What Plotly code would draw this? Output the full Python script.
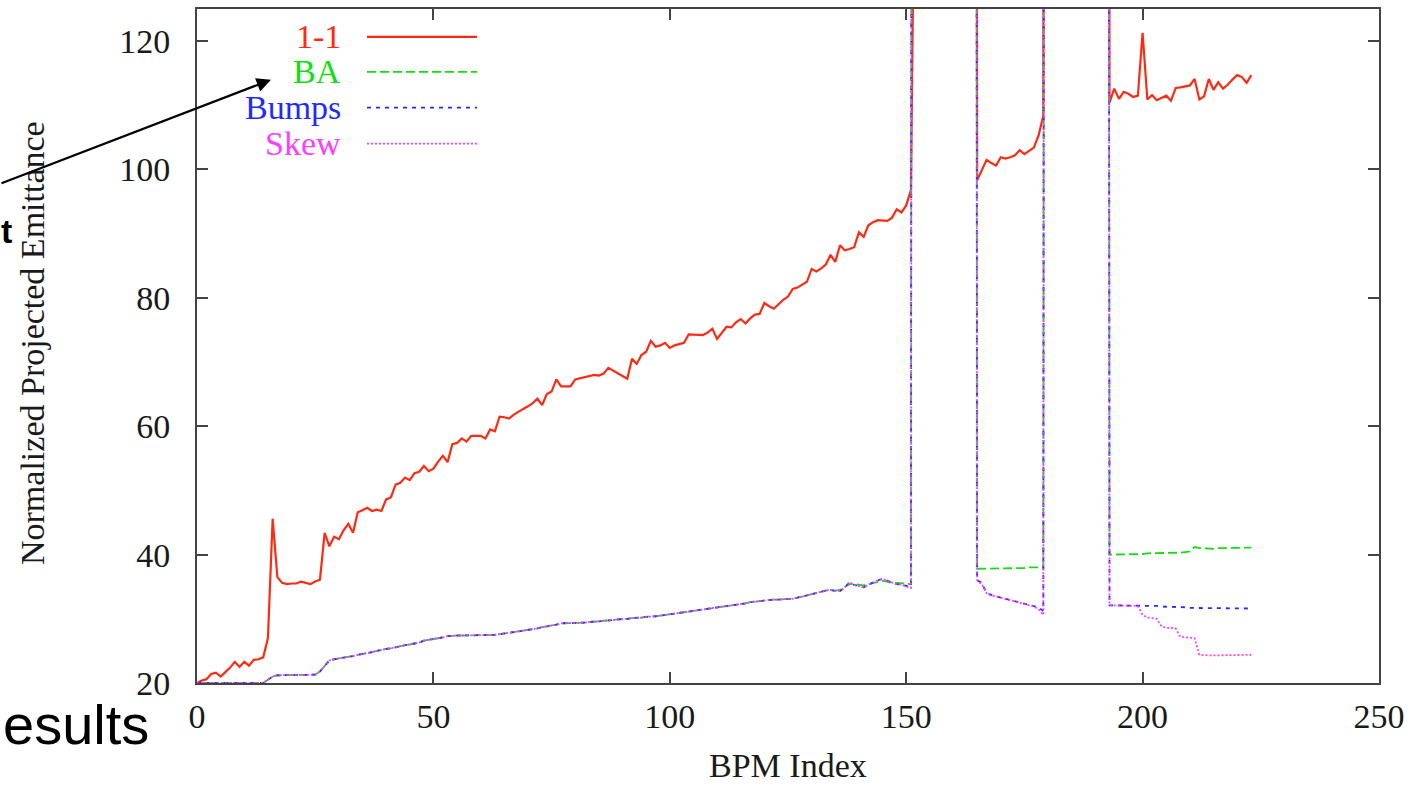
import plotly.graph_objects as go

# Readings beyond the top of the emittance axis (plotted, then clipped by the frame)
OFF_SCALE = 1000.0
O = OFF_SCALE

bpm_index = list(range(224))

emit_1to1 = [
    20.0, 20.4, 20.6, 21.4, 21.6, 21.0, 21.7, 22.4, 23.3, 22.5,   # 0-9
    23.3, 22.7, 23.6, 23.7, 24.0, 27.0, 45.6, 36.5, 35.6, 35.4,   # 10-19
    35.5, 35.5, 35.8, 35.6, 35.4, 35.8, 36.1, 43.4, 41.3, 42.8,   # 20-29
    42.4, 43.8, 44.8, 43.4, 46.6, 46.9, 47.3, 46.8, 47.0, 46.8,   # 30-39
    48.6, 48.9, 50.9, 51.2, 52.0, 51.6, 52.7, 52.9, 53.8, 53.0,   # 40-49
    53.4, 54.5, 55.4, 54.4, 57.2, 57.4, 58.1, 57.6, 58.5, 58.5,   # 50-59
    58.5, 58.1, 59.5, 59.2, 61.5, 61.4, 61.2, 61.8, 62.3, 62.7,   # 60-69
    63.1, 63.6, 64.3, 63.3, 65.0, 65.4, 67.3, 66.2, 66.2, 66.2,   # 70-79
    67.3, 67.5, 67.6, 67.8, 68.0, 67.9, 68.2, 69.1, 68.7, 68.3,   # 80-89
    67.9, 67.4, 70.5, 69.7, 71.1, 71.6, 73.3, 72.4, 72.6, 73.0,   # 90-99
    72.2, 72.6, 72.8, 73.0, 74.3, 74.3, 74.3, 74.2, 74.6, 75.2,   # 100-109
    73.6, 74.6, 75.5, 75.4, 76.2, 76.7, 76.0, 76.8, 77.4, 77.5,   # 110-119
    79.2, 78.7, 78.3, 79.0, 79.7, 80.2, 81.4, 81.6, 82.0, 82.5,   # 120-129
    84.5, 84.1, 84.6, 85.2, 86.7, 85.6, 88.2, 87.4, 87.6, 87.9,   # 130-139
    90.2, 89.5, 91.3, 91.8, 92.1, 92.1, 92.0, 92.5, 93.8, 93.3,   # 140-149
    94.4, 96.8, O, O, O, O, O, O, O, O,                           # 150-159
    O, O, O, O, O, 98.3, 100.0, 101.5, 101.0, 100.6,             # 160-169
    101.9, 101.7, 101.9, 102.2, 103.0, 102.4, 102.9, 103.4, 105.3, 108.4,  # 170-179
    O, O, O, O, O, O, O, O, O, O,                                 # 180-189
    O, O, O, 110.4, 112.6, 111.0, 112.1, 111.8, 111.3, 111.5,     # 190-199
    121.3, 110.9, 111.6, 110.8, 111.2, 111.5, 110.7, 112.7, 112.8, 112.9,  # 200-209
    113.1, 114.1, 110.9, 111.4, 114.1, 112.4, 113.6, 112.6, 113.2, 114.0,  # 210-219
    114.7, 114.4, 113.5, 114.7,                                   # 220-223
]

emit_ba = [
    20.0, 20.0, 20.0, 20.0, 20.0, 20.0, 20.0, 20.0, 20.0, 20.0,   # 0-9
    20.0, 20.0, 20.0, 20.0, 20.0, 20.5, 21.0, 21.2, 21.2, 21.2,   # 10-19
    21.2, 21.2, 21.2, 21.2, 21.2, 21.3, 21.8, 22.6, 23.5, 23.7,   # 20-29
    23.8, 23.9, 24.1, 24.2, 24.4, 24.5, 24.7, 24.8, 25.0, 25.2,   # 30-39
    25.3, 25.4, 25.6, 25.7, 25.9, 26.0, 26.1, 26.3, 26.6, 26.7,   # 40-49
    26.8, 26.9, 27.1, 27.3, 27.4, 27.4, 27.4, 27.4, 27.4, 27.4,   # 50-59
    27.4, 27.4, 27.4, 27.5, 27.6, 27.7, 27.8, 27.9, 28.0, 28.1,   # 60-69
    28.2, 28.4, 28.5, 28.7, 28.8, 29.0, 29.1, 29.3, 29.3, 29.3,   # 70-79
    29.3, 29.3, 29.4, 29.5, 29.5, 29.6, 29.7, 29.7, 29.8, 29.9,   # 80-89
    29.9, 30.0, 30.1, 30.1, 30.2, 30.3, 30.3, 30.4, 30.5, 30.6,   # 90-99
    30.7, 30.8, 30.9, 31.0, 31.1, 31.2, 31.3, 31.4, 31.5, 31.6,   # 100-109
    31.7, 31.8, 32.0, 32.1, 32.2, 32.3, 32.4, 32.6, 32.7, 32.8,   # 110-119
    32.9, 33.0, 33.0, 33.0, 33.1, 33.1, 33.1, 33.3, 33.5, 33.7,   # 120-129
    33.9, 34.1, 34.3, 34.4, 34.5, 34.4, 34.5, 34.9, 35.4, 35.4,   # 130-139
    35.3, 35.2, 35.4, 35.6, 35.8, 35.9, 35.8, 35.6, 35.6, 35.5,   # 140-149
    35.5, 35.4, O, O, O, O, O, O, O, O,                           # 150-159
    O, O, O, O, O, 37.8, 37.8, 37.8, 37.8, 37.8,                 # 160-169
    37.8, 37.9, 37.9, 37.9, 37.9, 37.9, 38.0, 38.0, 38.0, 38.0,   # 170-179
    O, O, O, O, O, O, O, O, O, O,                                 # 180-189
    O, O, O, 40.0, 40.0, 40.0, 40.1, 40.1, 40.1, 40.1,           # 190-199
    40.1, 40.2, 40.2, 40.2, 40.2, 40.3, 40.3, 40.3, 40.3, 40.4,   # 200-209
    40.5, 41.2, 41.0, 41.0, 40.9, 40.9, 41.0, 41.0, 41.0, 41.0,   # 210-219
    41.1, 41.1, 41.1, 41.1,                                       # 220-223
]

emit_bumps = [
    20.0, 20.0, 20.0, 20.0, 20.0, 20.0, 20.0, 20.0, 20.0, 20.0,   # 0-9
    20.0, 20.0, 20.0, 20.0, 20.0, 20.5, 21.0, 21.2, 21.2, 21.2,   # 10-19
    21.2, 21.2, 21.2, 21.2, 21.2, 21.3, 21.8, 22.6, 23.5, 23.7,   # 20-29
    23.8, 23.9, 24.1, 24.2, 24.4, 24.5, 24.7, 24.8, 25.0, 25.2,   # 30-39
    25.3, 25.4, 25.6, 25.7, 25.9, 26.0, 26.1, 26.3, 26.6, 26.7,   # 40-49
    26.8, 26.9, 27.1, 27.3, 27.4, 27.4, 27.4, 27.4, 27.4, 27.4,   # 50-59
    27.4, 27.4, 27.4, 27.5, 27.6, 27.7, 27.8, 27.9, 28.0, 28.1,   # 60-69
    28.2, 28.4, 28.5, 28.7, 28.8, 29.0, 29.1, 29.3, 29.3, 29.3,   # 70-79
    29.3, 29.3, 29.4, 29.5, 29.5, 29.6, 29.7, 29.7, 29.8, 29.9,   # 80-89
    29.9, 30.0, 30.1, 30.1, 30.2, 30.3, 30.3, 30.4, 30.5, 30.6,   # 90-99
    30.7, 30.8, 30.9, 31.0, 31.1, 31.2, 31.3, 31.4, 31.5, 31.6,   # 100-109
    31.7, 31.8, 32.0, 32.1, 32.2, 32.3, 32.4, 32.6, 32.7, 32.8,   # 110-119
    32.9, 33.0, 33.0, 33.0, 33.1, 33.1, 33.1, 33.3, 33.5, 33.7,   # 120-129
    33.9, 34.1, 34.3, 34.4, 34.5, 34.3, 34.3, 34.9, 35.7, 35.3,   # 130-139
    35.1, 34.9, 35.3, 35.7, 36.0, 36.2, 35.9, 35.7, 35.4, 35.3,   # 140-149
    35.2, 35.0, O, O, O, O, O, O, O, O,                           # 150-159
    O, O, O, O, O, 36.0, 35.6, 34.0, 33.7, 33.5,                 # 160-169
    33.3, 33.1, 32.9, 32.7, 32.5, 32.3, 32.2, 32.0, 31.8, 31.2,   # 170-179
    O, O, O, O, O, O, O, O, O, O,                                 # 180-189
    O, O, O, 32.1, 32.1, 32.1, 32.1, 32.1, 32.1, 32.1,           # 190-199
    32.0, 32.0, 32.0, 32.0, 31.9, 31.9, 31.8, 31.8, 31.8, 31.8,   # 200-209
    31.7, 31.7, 31.7, 31.7, 31.7, 31.7, 31.6, 31.6, 31.6, 31.6,   # 210-219
    31.6, 31.6, 31.6, 31.6,                                       # 220-223
]

emit_skew = [
    20.0, 20.0, 20.0, 20.0, 20.0, 20.0, 20.0, 20.0, 20.0, 20.0,   # 0-9
    20.0, 20.0, 20.0, 20.0, 20.0, 20.5, 21.0, 21.2, 21.2, 21.2,   # 10-19
    21.2, 21.2, 21.2, 21.2, 21.2, 21.3, 21.8, 22.6, 23.5, 23.7,   # 20-29
    23.8, 23.9, 24.1, 24.2, 24.4, 24.5, 24.7, 24.8, 25.0, 25.2,   # 30-39
    25.3, 25.4, 25.6, 25.7, 25.9, 26.0, 26.1, 26.3, 26.6, 26.7,   # 40-49
    26.8, 26.9, 27.1, 27.3, 27.4, 27.4, 27.4, 27.4, 27.4, 27.4,   # 50-59
    27.4, 27.4, 27.4, 27.5, 27.6, 27.7, 27.8, 27.9, 28.0, 28.1,   # 60-69
    28.2, 28.4, 28.5, 28.7, 28.8, 29.0, 29.1, 29.3, 29.3, 29.3,   # 70-79
    29.3, 29.3, 29.4, 29.5, 29.5, 29.6, 29.7, 29.7, 29.8, 29.9,   # 80-89
    29.9, 30.0, 30.1, 30.1, 30.2, 30.3, 30.3, 30.4, 30.5, 30.6,   # 90-99
    30.7, 30.8, 30.9, 31.0, 31.1, 31.2, 31.3, 31.4, 31.5, 31.6,   # 100-109
    31.7, 31.8, 32.0, 32.1, 32.2, 32.3, 32.4, 32.6, 32.7, 32.8,   # 110-119
    32.9, 33.0, 33.0, 33.0, 33.1, 33.1, 33.1, 33.3, 33.5, 33.7,   # 120-129
    33.9, 34.1, 34.3, 34.4, 34.5, 34.3, 34.3, 34.9, 35.7, 35.3,   # 130-139
    35.1, 34.9, 35.3, 35.7, 36.0, 36.2, 35.9, 35.7, 35.4, 35.3,   # 140-149
    35.0, 34.8, O, O, O, O, O, O, O, O,                           # 150-159
    O, O, O, O, O, 36.0, 35.4, 34.0, 33.6, 33.5,                 # 160-169
    33.3, 33.0, 32.9, 32.7, 32.5, 32.3, 32.1, 31.9, 31.5, 30.6,   # 170-179
    O, O, O, O, O, O, O, O, O, O,                                 # 180-189
    O, O, O, 32.1, 32.1, 32.1, 32.1, 32.1, 32.1, 32.0,           # 190-199
    30.6, 30.2, 30.1, 30.0, 28.8, 28.6, 28.6, 28.5, 27.2, 27.1,   # 200-209
    27.1, 27.0, 24.4, 24.3, 24.3, 24.3, 24.3, 24.3, 24.3, 24.3,   # 210-219
    24.3, 24.3, 24.4, 24.4,                                       # 220-223
]

series_names = ["1-1", "BA", "Bumps", "Skew"]
series_values = [emit_1to1, emit_ba, emit_bumps, emit_skew]
series_colors = ["#ff2a12", "#10e010", "#1f2cff", "#ff3cff"]
series_dash = ["solid", "9px,4px", "4px,5px", "2px,2px"]
series_width = [2.2, 1.8, 1.8, 1.8]

x_ticks = [0, 50, 100, 150, 200, 250]
y_ticks = [20, 40, 60, 80, 100, 120]

SERIF = "Liberation Serif"
SANS = "Liberation Sans"

fig = go.Figure()
for name, vals, col, dash, w in zip(series_names, series_values, series_colors,
                                    series_dash, series_width):
    fig.add_trace(go.Scatter(
        x=bpm_index, y=vals, name=name, mode="lines",
        line=dict(color=col, dash=dash, width=w),
        showlegend=False,
    ))

axis_common = dict(
    showline=True, linewidth=2, linecolor="#444", mirror="ticks",
    ticks="inside", ticklen=11, tickwidth=2, tickcolor="#444",
    showgrid=False, zeroline=False,
    tickfont=dict(family=SERIF, size=34, color="#1a1a1a"),
)

fig.update_xaxes(range=[0, 250], tickvals=x_ticks, ticklabelstandoff=2, **axis_common)
fig.update_yaxes(range=[20, 125], tickvals=y_ticks, ticklabelstandoff=18, **axis_common)

# plot frame in page pixels
L, R, T, B = 197, 1379, 7, 683
W, H = R - L, B - T


def px_x(p):
    return (p - L) / W


def px_y(p):
    return (B - p) / H


annotations = []
shapes = []

# key: label text right-aligned, line sample to its right
key_rows_y = [35, 70, 106, 142]
for name, col, dash, w, yy in zip(series_names, series_colors, series_dash,
                                  series_width, key_rows_y):
    annotations.append(dict(
        xref="paper", yref="paper", x=px_x(343), y=px_y(yy),
        xanchor="right", yanchor="middle", showarrow=False,
        text=name, font=dict(family=SERIF, size=34, color=col),
    ))
    shapes.append(dict(
        type="line", xref="paper", yref="paper",
        x0=px_x(367), x1=px_x(477), y0=px_y(yy), y1=px_y(yy),
        line=dict(color=col, dash=dash, width=w),
    ))

# axis titles
annotations.append(dict(
    xref="paper", yref="paper", x=0.5, y=px_y(786),
    xanchor="center", yanchor="bottom", showarrow=False,
    text="BPM Index", font=dict(family=SERIF, size=34, color="#1a1a1a"),
))
annotations.append(dict(
    xref="paper", yref="paper", x=px_x(32), y=px_y(342),
    xanchor="center", yanchor="middle", showarrow=False, textangle=-90,
    text="Normalized Projected Emittance",
    font=dict(family=SERIF, size=34, color="#1a1a1a"),
))

# slide text around the plot
annotations.append(dict(
    xref="paper", yref="paper", x=px_x(151), y=px_y(725),
    xanchor="right", yanchor="middle", showarrow=False,
    text="esults", font=dict(family=SANS, size=56, color="black"),
))
annotations.append(dict(
    xref="paper", yref="paper", x=px_x(14), y=px_y(230),
    xanchor="right", yanchor="middle", showarrow=False,
    text="<b>t</b>", font=dict(family=SANS, size=34, color="black"),
))
# pointer arrow towards the key
annotations.append(dict(
    xref="paper", yref="paper", x=px_x(271), y=px_y(78),
    axref="pixel", ayref="pixel", ax=-290, ay=104,
    text="", showarrow=True, arrowhead=2, arrowsize=1.3,
    arrowwidth=2.2, arrowcolor="black",
))

fig.update_layout(
    width=1421, height=787,
    margin=dict(l=L, r=1421 - R, t=T, b=787 - B),
    paper_bgcolor="white", plot_bgcolor="white",
    showlegend=False,
    annotations=annotations, shapes=shapes,
)

fig.write_html("out.html")
